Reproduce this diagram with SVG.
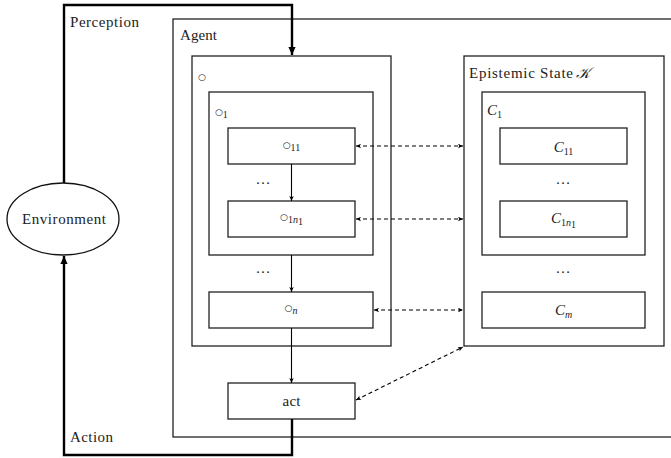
<svg xmlns="http://www.w3.org/2000/svg" width="671" height="458" viewBox="0 0 671 458">
<style>
.box{fill:none;stroke:#222;stroke-width:1.3}
text{font-family:'Liberation Serif','Times New Roman',serif;font-size:15px;fill:#222}
.s{font-size:10px}
.i{font-style:italic}
.r{font-family:'DejaVu Sans',sans-serif;font-size:9px}
.thick{fill:none;stroke:#000;stroke-width:2.4}
.thin{fill:none;stroke:#000;stroke-width:1.1}
.dash{fill:none;stroke:#000;stroke-width:1.1;stroke-dasharray:4,3}
</style>
<defs>
<marker id="big" viewBox="0 0 10 10" refX="10" refY="5" markerWidth="9" markerHeight="8" markerUnits="userSpaceOnUse" orient="auto-start-reverse"><path d="M0,0.5 L10,5 L0,9.5 z" fill="#000"/></marker>
<marker id="sm" viewBox="0 0 10 10" refX="10" refY="5" markerWidth="6" markerHeight="5" markerUnits="userSpaceOnUse" orient="auto-start-reverse"><path d="M0,0.5 L10,5 L0,9.5 L2.5,5 z" fill="#000"/></marker>
</defs>
<g id="agent"><rect class="box" x="173" y="19" width="510" height="418"/><text x="180" y="40" textLength="37">Agent</text></g>
<g id="environment"><ellipse cx="63" cy="219" rx="56" ry="36" fill="none" stroke="#111" stroke-width="1.3"/><text x="64" y="224" text-anchor="middle" textLength="84">Environment</text></g>
<g id="o"><rect class="box" x="192" y="56" width="199" height="290"/><text x="198" y="80"><tspan class="r">○</tspan></text></g>
<g id="o1"><rect class="box" x="209" y="92" width="164" height="163"/><text x="215" y="115"><tspan class="r">○</tspan><tspan class="s" dy="3">1</tspan></text></g>
<g id="o11"><rect class="box" x="228" y="128" width="127" height="36"/><text x="291.5" y="148" text-anchor="middle"><tspan class="r">○</tspan><tspan class="s" dy="3">11</tspan></text></g>
<g id="o1n1"><rect class="box" x="228" y="201" width="127" height="36"/><text x="291.5" y="220" text-anchor="middle"><tspan class="r">○</tspan><tspan class="s" dy="3">1<tspan class="i">n</tspan></tspan><tspan class="s" font-size="7" dy="2">1</tspan></text></g>
<g id="on"><rect class="box" x="209" y="292" width="164" height="36"/><text x="291" y="311" text-anchor="middle"><tspan class="r">○</tspan><tspan class="s i" dy="3">n</tspan></text></g>
<g id="act"><rect class="box" x="228" y="383" width="127" height="36"/><text x="291.5" y="405.5" text-anchor="middle" textLength="18">act</text></g>
<g id="epistemic"><rect class="box" x="464" y="56" width="200" height="290"/><text x="469" y="78" textLength="104">Epistemic State</text><text class="i" x="576" y="78">𝒦</text></g>
<g id="C1"><rect class="box" x="482" y="92" width="163" height="163"/><text x="487" y="115"><tspan class="i">C</tspan><tspan class="s" dy="3">1</tspan></text></g>
<g id="C11"><rect class="box" x="500" y="128" width="127" height="36"/><text x="563.5" y="152" text-anchor="middle"><tspan class="i">C</tspan><tspan class="s" dy="3">11</tspan></text></g>
<g id="C1n1"><rect class="box" x="500" y="201" width="127" height="36"/><text x="563.5" y="223" text-anchor="middle"><tspan class="i">C</tspan><tspan class="s" dy="3">1<tspan class="i">n</tspan></tspan><tspan class="s" font-size="7" dy="2">1</tspan></text></g>
<g id="Cm"><rect class="box" x="482" y="292" width="163" height="36"/><text x="563.5" y="315" text-anchor="middle"><tspan class="i">C</tspan><tspan class="s i" dy="3">m</tspan></text></g>
<g id="labels">
<text x="70" y="27" textLength="69">Perception</text>
<text x="70" y="442" textLength="43">Action</text>
<text x="263" y="184" text-anchor="middle">…</text>
<text x="263" y="273" text-anchor="middle">…</text>
<text x="563" y="184" text-anchor="middle">…</text>
<text x="563" y="273" text-anchor="middle">…</text>
</g>
<g id="connectors">
<path class="thick" d="M64,183 V5 H292 V55" marker-end="url(#big)"/>
<path class="thick" d="M292,419 V455 H64 V256" marker-end="url(#big)"/>
<line class="thin" x1="291.5" y1="164" x2="291.5" y2="201" marker-end="url(#sm)"/>
<line class="thin" x1="291.5" y1="255" x2="291.5" y2="292" marker-end="url(#sm)"/>
<line class="thin" x1="291.5" y1="328" x2="291.5" y2="383" marker-end="url(#sm)"/>
<line class="dash" x1="356" y1="146" x2="463" y2="146" marker-start="url(#sm)" marker-end="url(#sm)"/>
<line class="dash" x1="356" y1="219" x2="463" y2="219" marker-start="url(#sm)" marker-end="url(#sm)"/>
<line class="dash" x1="374" y1="310" x2="463" y2="310" marker-start="url(#sm)" marker-end="url(#sm)"/>
<line class="dash" x1="356" y1="400" x2="463" y2="347" marker-start="url(#sm)" marker-end="url(#sm)"/>
</g>
</svg>
